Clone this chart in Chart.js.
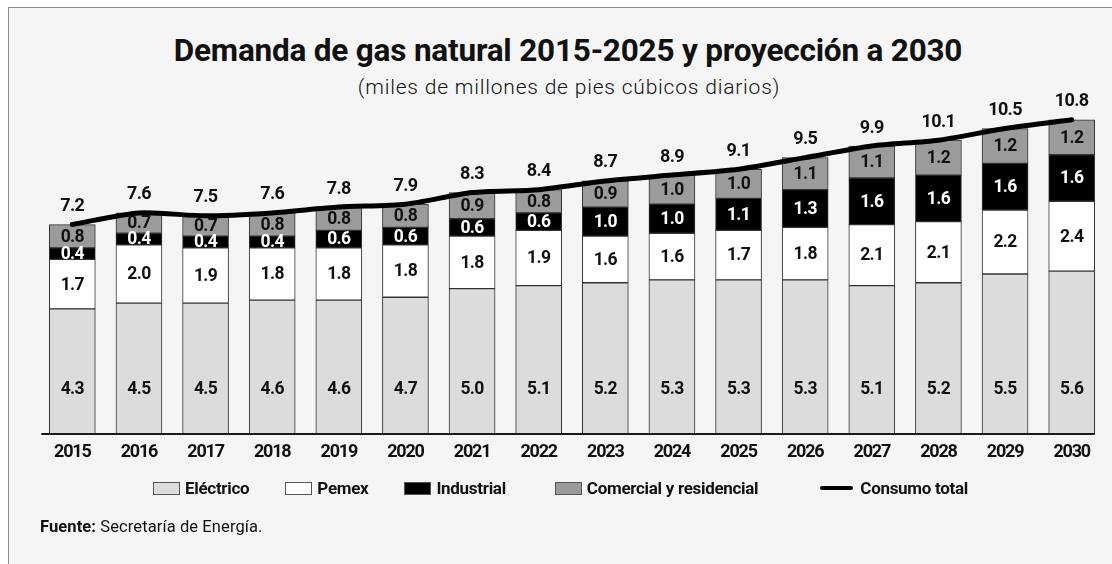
<!DOCTYPE html>
<html lang="es">
<head>
<meta charset="utf-8">
<title>Demanda de gas natural 2015-2025 y proyección a 2030</title>
<script src="https://cdn.jsdelivr.net/npm/chart.js@4.4.1/dist/chart.umd.min.js"></script>
<style>
  html, body { margin: 0; padding: 0; background: #fff; width: 1112px; height: 564px; overflow: hidden; }
  body { position: relative; font-family: Roboto, "Noto Sans", sans-serif; color: #111; }
  .marco { position: absolute; left: 8px; top: 7px; width: 1120px; height: 600px; border: 1px solid #8c8c8c; background: #f5f5f5; }
  #grafica { position: absolute; left: 0; top: 0; }
  .titulo { position: absolute; left: 0; width: 1136px; top: 35px; text-align: center; font-size: 31.5px; line-height: 1; font-weight: bold; letter-spacing: -0.2px; }
  .subtitulo { position: absolute; left: 0; width: 1138px; top: 77px; text-align: center; font-size: 21px; line-height: 1; font-weight: 300; letter-spacing: 0.8px; }
  .leyenda { position: absolute; left: 153px; top: 478px; display: flex; align-items: center; font-size: 17px; font-weight: bold; letter-spacing: -0.3px; }
  .leyenda .item { display: flex; align-items: center; margin-right: 36px; }
  .leyenda .item:nth-child(3) { margin-right: 49px; }
  .leyenda .caja { width: 25px; height: 11px; border: 1px solid #555; margin-right: 5px; }
  .leyenda .linea { width: 33px; height: 4px; border-radius: 2px; background: #000; margin-right: 7px; margin-left: 26px; }
  .fuente { position: absolute; left: 40px; top: 517px; font-size: 16.5px; letter-spacing: 0.1px; }
  .fuente b { font-weight: bold; }
</style>
</head>
<body>
<div class="marco"></div>
<div class="titulo">Demanda de gas natural 2015-2025 y proyección a 2030</div>
<div class="subtitulo">(miles de millones de pies cúbicos diarios)</div>
<canvas id="grafica" width="1112" height="564"></canvas>
<div class="leyenda" id="leyenda"></div>
<div class="fuente"><b>Fuente:</b> Secretaría de Energía.</div>

<script>
// Datos (miles de millones de pies cubicos diarios)
const anios = ['2015', '2016', '2017', '2018', '2019', '2020', '2021', '2022',
               '2023', '2024', '2025', '2026', '2027', '2028', '2029', '2030'];
const electrico  = [4.3, 4.5, 4.5, 4.6, 4.6, 4.7, 5.0, 5.1, 5.2, 5.3, 5.3, 5.3, 5.1, 5.2, 5.5, 5.6];
const pemex      = [1.7, 2.0, 1.9, 1.8, 1.8, 1.8, 1.8, 1.9, 1.6, 1.6, 1.7, 1.8, 2.1, 2.1, 2.2, 2.4];
const industrial = [0.4, 0.4, 0.4, 0.4, 0.6, 0.6, 0.6, 0.6, 1.0, 1.0, 1.1, 1.3, 1.6, 1.6, 1.6, 1.6];
const comercial  = [0.8, 0.7, 0.7, 0.8, 0.8, 0.8, 0.9, 0.8, 0.9, 1.0, 1.0, 1.1, 1.1, 1.2, 1.2, 1.2];
const consumoTotal = [7.2, 7.6, 7.5, 7.6, 7.8, 7.9, 8.3, 8.4, 8.7, 8.9, 9.1, 9.5, 9.9, 10.1, 10.5, 10.8];

const fuenteNumeros = 'Roboto, "Noto Sans", sans-serif';

// Funcion para armar un dataset de barras apiladas
function serieBarra(nombre, datos, color, colorTexto) {
    return {
        type: 'bar',
        label: nombre,
        data: datos,
        backgroundColor: color,
        borderColor: '#333',
        borderWidth: 1,
        borderSkipped: false,
        barThickness: 46,
        stack: 'demanda',
        order: 1,
        colorTexto: colorTexto
    };
}

// Texto un poco mas apretado en todo el canvas (numeros condensados)
const textoCondensado = {
    id: 'textoCondensado',
    beforeDraw(chart) {
        chart.ctx.letterSpacing = '-1.2px';
    }
};

// Etiquetas con los valores dentro de las barras y sobre la linea
const etiquetas = {
    id: 'etiquetas',
    afterDatasetsDraw(chart) {
        const ctx = chart.ctx;
        ctx.save();
        ctx.letterSpacing = '-0.6px';
        ctx.textAlign = 'center';
        ctx.textBaseline = 'middle';
        chart.data.datasets.forEach((ds, i) => {
            const meta = chart.getDatasetMeta(i);
            meta.data.forEach((el, j) => {
                const texto = ds.data[j].toFixed(1);
                if (ds.type === 'line') {
                    ctx.font = 'bold 18px ' + fuenteNumeros;
                    ctx.fillStyle = '#111';
                    ctx.fillText(texto, el.x, el.y - 18);
                } else if (i === 0) {
                    // la etiqueta electrica va en la parte baja de la barra
                    ctx.font = 'bold 17.5px ' + fuenteNumeros;
                    ctx.fillStyle = ds.colorTexto;
                    ctx.fillText(texto, el.x, el.base - 44);
                } else {
                    ctx.font = 'bold 17.5px ' + fuenteNumeros;
                    ctx.fillStyle = ds.colorTexto;
                    ctx.fillText(texto, el.x, (el.y + el.base) / 2 + 1);
                }
            });
        });
        ctx.restore();
    }
};

// Linea base del eje horizontal
const lineaBase = {
    id: 'lineaBase',
    afterDatasetsDraw(chart) {
        const meta = chart.getDatasetMeta(0);
        const primera = meta.data[0];
        const ultima = meta.data[meta.data.length - 1];
        const y = chart.scales.y.getPixelForValue(0);
        const ctx = chart.ctx;
        ctx.save();
        ctx.strokeStyle = '#1a1a1a';
        ctx.lineWidth = 2;
        ctx.beginPath();
        ctx.moveTo(primera.x - primera.width / 2 - 8, y);
        ctx.lineTo(ultima.x + ultima.width / 2, y);
        ctx.stroke();
        ctx.restore();
    }
};

const datasets = [
    serieBarra('Eléctrico', electrico, '#dcdcdc', '#111'),
    serieBarra('Pemex', pemex, '#ffffff', '#111'),
    serieBarra('Industrial', industrial, '#000000', '#ffffff'),
    serieBarra('Comercial y residencial', comercial, '#9b9b9b', '#111'),
    {
        type: 'line',
        label: 'Consumo total',
        data: consumoTotal,
        borderColor: '#000',
        borderWidth: 5,
        borderCapStyle: 'round',
        pointRadius: 0,
        tension: 0.25,
        stack: 'total',
        order: 0
    }
];

const grafica = new Chart(document.getElementById('grafica').getContext('2d'), {
    data: { labels: anios, datasets: datasets },
    options: {
        responsive: false,
        animation: false,
        layout: { padding: { left: 39, right: 7, top: 114, bottom: 100 } },
        plugins: {
            legend: { display: false },
            tooltip: { enabled: false }
        },
        scales: {
            x: {
                stacked: true,
                offset: true,
                grid: { display: false },
                border: { display: false },
                ticks: {
                    color: '#111',
                    padding: 0,
                    autoSkip: false,
                    maxRotation: 0,
                    font: { family: fuenteNumeros, size: 18, weight: 'bold' }
                },
                afterFit(escala) { escala.height = 30; }
            },
            y: { stacked: true, display: false, min: 0, max: 11 }
        }
    },
    plugins: [textoCondensado, lineaBase, etiquetas]
});

// Leyenda armada desde los datasets
const leyenda = document.getElementById('leyenda');
datasets.forEach(ds => {
    const item = document.createElement('div');
    item.className = 'item';
    const marca = document.createElement('span');
    if (ds.type === 'line') {
        marca.className = 'linea';
    } else {
        marca.className = 'caja';
        marca.style.background = ds.backgroundColor;
    }
    item.appendChild(marca);
    item.appendChild(document.createTextNode(ds.label));
    leyenda.appendChild(item);
});
</script>
</body>
</html>
